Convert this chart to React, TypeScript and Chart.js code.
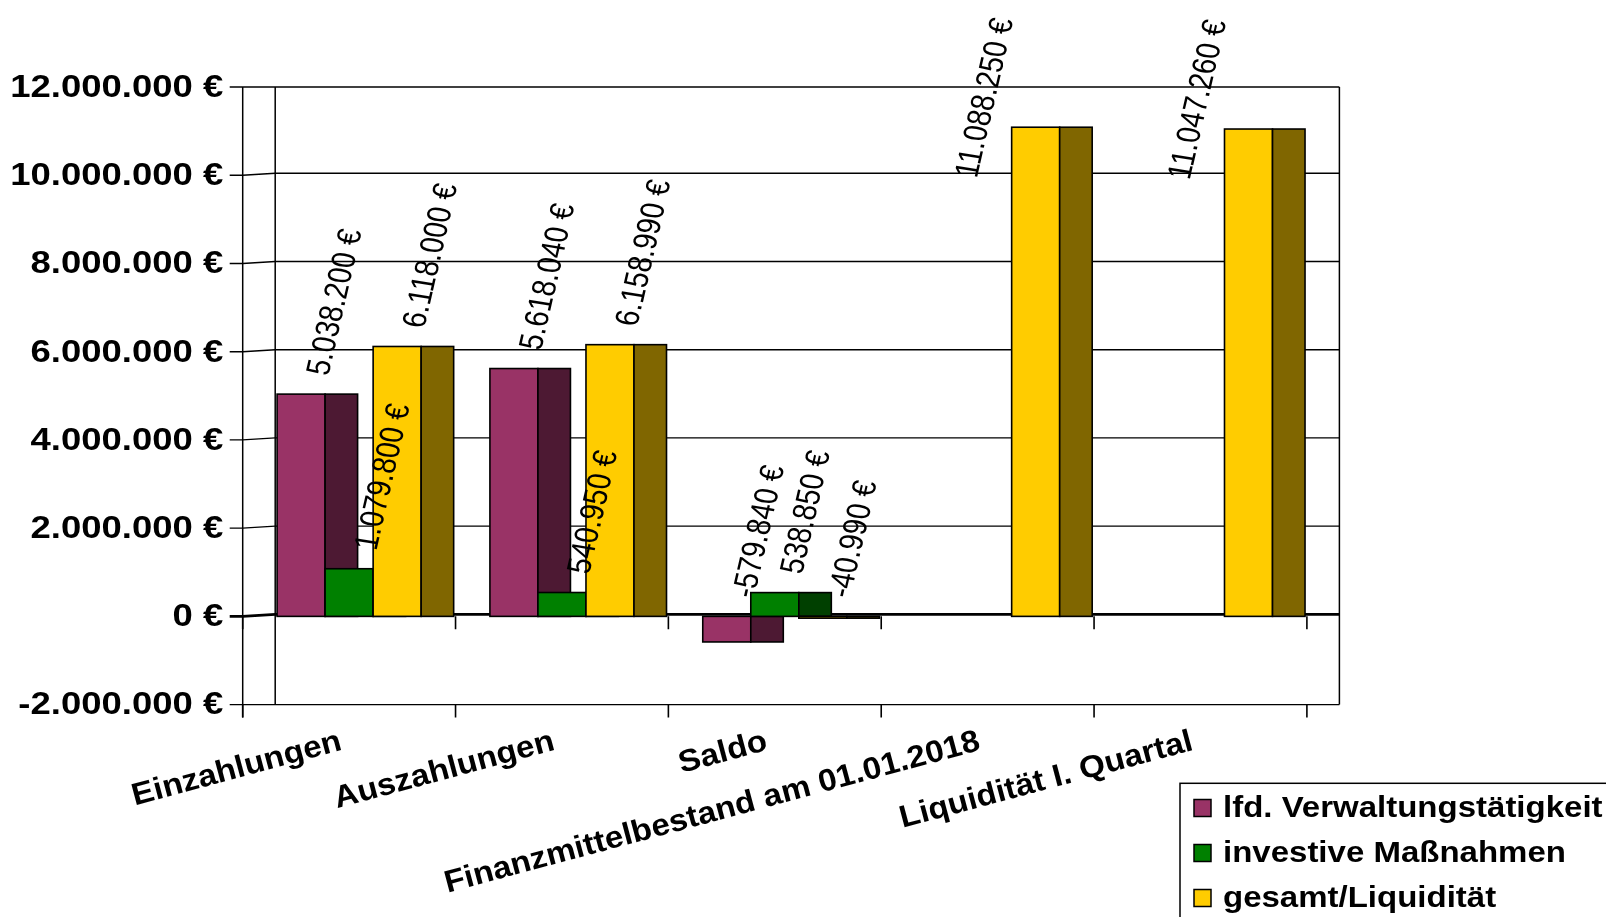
import React, { useEffect, useRef } from 'react';
import { Chart, registerables } from 'chart.js';

Chart.register(...registerables);

const categories = [
  'Einzahlungen',
  'Auszahlungen',
  'Saldo',
  'Finanzmittelbestand am 01.01.2018',
  'Liquidität I. Quartal',
];
const seriesNames = ['lfd. Verwaltungstätigkeit', 'investive Maßnahmen', 'gesamt/Liquidität'];
const verwaltung: (number | null)[] = [5038200, 5618040, -579840, null, null];
const investiv: (number | null)[] = [1079800, 540950, 538850, null, null];
const gesamt: (number | null)[] = [6118000, 6158990, -40990, 11088250, 11047260];
const yTicks = [-2000000, 0, 2000000, 4000000, 6000000, 8000000, 10000000, 12000000];

const frontColors = ['#993366', '#008000', '#FFCC00'];
const sideColors = ['#4D1933', '#004000', '#806600'];

const W = 1606;
const H = 917;
const AREA_TOP = 87;
const AREA_BOTTOM = 704.6;
const AREA_LEFT = 242.7;
const AREA_RIGHT = 1306.9;
const DEPTH = 32.5;
const FONT = '"Liberation Sans", Arial, sans-serif';

const fmt = (v: number) => {
  const s = Math.abs(Math.round(v)).toString().replace(/\B(?=(\d{3})+(?!\d))/g, '.');
  return (v < 0 ? '-' : '') + s + ' €';
};

const threeDPlugin = {
  id: 'threeD',
  beforeDatasetsDraw(chart: any) {
    const ctx: CanvasRenderingContext2D = chart.ctx;
    const { left, right, top, bottom } = chart.chartArea;
    const ys = chart.scales.y;
    ctx.save();
    ctx.strokeStyle = '#000';
    ctx.lineCap = 'butt';
    const yMin = yTicks[0];
    const yMax = yTicks[yTicks.length - 1];
    for (const v of yTicks) {
      const py = ys.getPixelForValue(v);
      const slant = v === yMin || v === yMax ? 0 : 2;
      ctx.lineWidth = v === 0 ? 2.8 : 1.4;
      ctx.beginPath();
      ctx.moveTo(left - 13, py);
      ctx.lineTo(left, py);
      ctx.lineTo(left + DEPTH, py - slant);
      ctx.lineTo(right + DEPTH, py - slant);
      ctx.stroke();
    }
    ctx.lineWidth = 1.5;
    ctx.beginPath();
    ctx.moveTo(left, top);
    ctx.lineTo(left, bottom + 13);
    ctx.moveTo(left + DEPTH, top);
    ctx.lineTo(left + DEPTH, bottom);
    ctx.moveTo(right + DEPTH, top);
    ctx.lineTo(right + DEPTH, bottom);
    ctx.stroke();

    const n = chart.data.labels.length;
    ctx.lineWidth = 1.6;
    ctx.lineJoin = 'miter';
    for (let i = 0; i < n; i++) {
      for (let d = 0; d < chart.data.datasets.length; d++) {
        const val = chart.data.datasets[d].data[i];
        if (val === null || val === undefined) continue;
        const el = chart.getDatasetMeta(d).data[i];
        const p = el.getProps(['x', 'y', 'base', 'width'], true);
        const l = p.x - p.width / 2;
        const r = p.x + p.width / 2;
        const t = Math.min(p.y, p.base);
        const b = Math.max(p.y, p.base);
        ctx.fillStyle = frontColors[d];
        ctx.fillRect(l, t, r - l, b - t);
        ctx.strokeRect(l, t, r - l, b - t);
        ctx.fillStyle = sideColors[d];
        ctx.fillRect(r, t, DEPTH, b - t);
        ctx.strokeRect(r, t, DEPTH, b - t);
      }
    }
    ctx.restore();
    return false;
  },
  afterDraw(chart: any) {
    const ctx: CanvasRenderingContext2D = chart.ctx;
    const { left, bottom } = chart.chartArea;
    const xs = chart.scales.x;
    const ys = chart.scales.y;
    const n = chart.data.labels.length;
    ctx.save();
    ctx.strokeStyle = '#000';
    ctx.fillStyle = '#000';

    // category ticks at the zero line and at the bottom edge
    const cw = xs.getPixelForTick(1) - xs.getPixelForTick(0);
    const y0 = ys.getPixelForValue(0);
    ctx.lineWidth = 1.6;
    ctx.beginPath();
    for (let k = 0; k <= n; k++) {
      const px = k < n ? xs.getPixelForTick(k) - cw / 2 : xs.getPixelForTick(n - 1) + cw / 2;
      ctx.moveTo(px, y0);
      ctx.lineTo(px, y0 + 13);
      ctx.moveTo(px, bottom);
      ctx.lineTo(px, bottom + 13);
    }
    ctx.stroke();

    // y tick labels
    ctx.font = `bold 32px ${FONT}`;
    ctx.textAlign = 'right';
    ctx.textBaseline = 'middle';
    for (const v of yTicks) {
      const py = ys.getPixelForValue(v);
      ctx.save();
      ctx.translate(left - 19.5, py + 1);
      ctx.scale(1.14, 1);
      ctx.fillText(fmt(v), 0, 0);
      ctx.restore();
    }

    // x category labels
    ctx.font = `bold 31px ${FONT}`;
    ctx.textAlign = 'right';
    ctx.textBaseline = 'alphabetic';
    for (let i = 0; i < n; i++) {
      const px = xs.getPixelForTick(i);
      ctx.save();
      ctx.translate(px - 6, bottom + 45);
      ctx.rotate((-15 * Math.PI) / 180);
      ctx.scale(1.07, 1);
      ctx.fillText(String(chart.data.labels[i]), 0, 0);
      ctx.restore();
    }

    // data labels
    ctx.font = `28px ${FONT}`;
    ctx.textAlign = 'left';
    ctx.textBaseline = 'middle';
    const sx = 1.2;
    const screenAng = (77 * Math.PI) / 180;
    const ang = Math.atan(Math.tan(screenAng) * sx);
    for (let d = 0; d < chart.data.datasets.length; d++) {
      const meta = chart.getDatasetMeta(d);
      for (let i = 0; i < n; i++) {
        const val = chart.data.datasets[d].data[i];
        if (val === null || val === undefined) continue;
        const p = meta.data[i].getProps(['x', 'y', 'base', 'width'], true);
        const txt = fmt(val);
        const len = ctx.measureText(txt).width;
        const topY = Math.min(p.y, p.base);
        let ax = p.x + 18;
        let ay = topY - 19;
        if (ay - len * Math.sin(screenAng) < 8) {
          ax = p.x - 68;
          ay = topY + 50;
        }
        ctx.save();
        ctx.translate(ax, ay);
        ctx.scale(sx, 1);
        ctx.rotate(-ang);
        ctx.fillText(txt, 0, 0);
        ctx.restore();
      }
    }

    // legend
    const lx = 1180;
    const ly = 783.3;
    ctx.lineWidth = 1.5;
    ctx.strokeRect(lx, ly, W - lx + 20, H - ly + 20);
    ctx.font = `bold 30px ${FONT}`;
    ctx.textAlign = 'left';
    ctx.textBaseline = 'middle';
    const sq = 17;
    for (let d = 0; d < chart.data.datasets.length; d++) {
      const cy = 808 + d * 45;
      ctx.fillStyle = frontColors[d];
      ctx.fillRect(1194, cy - sq / 2, sq, sq);
      ctx.strokeRect(1194, cy - sq / 2, sq, sq);
      ctx.fillStyle = '#000';
      ctx.save();
      ctx.translate(1223, cy + 1);
      ctx.scale(1.1, 1);
      ctx.fillText(chart.data.datasets[d].label, 0, 0);
      ctx.restore();
    }
    ctx.restore();
  },
};

export default function App() {
  const ref = useRef<HTMLCanvasElement | null>(null);
  useEffect(() => {
    if (!ref.current) return;
    const series = [verwaltung, investiv, gesamt];
    const chart = new Chart(ref.current, {
      type: 'bar',
      data: {
        labels: categories,
        datasets: series.map((data, d) => ({
          label: seriesNames[d],
          data,
          backgroundColor: frontColors[d],
          borderColor: '#000',
          borderWidth: 1.5,
          categoryPercentage: 0.677,
          barPercentage: 1,
        })),
      },
      options: {
        animation: false,
        responsive: false,
        maintainAspectRatio: false,
        events: [],
        layout: {
          padding: { top: AREA_TOP, right: W - AREA_RIGHT, bottom: 0, left: 0 },
        },
        plugins: {
          legend: { display: false },
          tooltip: { enabled: false },
        },
        scales: {
          x: {
            grid: { display: false },
            border: { display: false },
            ticks: { display: false },
            afterFit: (s: any) => {
              s.height = H - AREA_BOTTOM;
            },
          },
          y: {
            min: yTicks[0],
            max: yTicks[yTicks.length - 1],
            grid: { display: false },
            border: { display: false },
            ticks: { display: false, stepSize: 2000000 },
            afterFit: (s: any) => {
              s.width = AREA_LEFT;
            },
          },
        },
      },
      plugins: [threeDPlugin],
    } as any);
    return () => chart.destroy();
  }, []);
  return (
    <div style={{ position: 'fixed', left: 0, top: 0, width: W, height: H, background: '#fff', overflow: 'hidden' }}>
      <canvas ref={ref} width={W} height={H} style={{ display: 'block', width: W, height: H }} />
    </div>
  );
}
